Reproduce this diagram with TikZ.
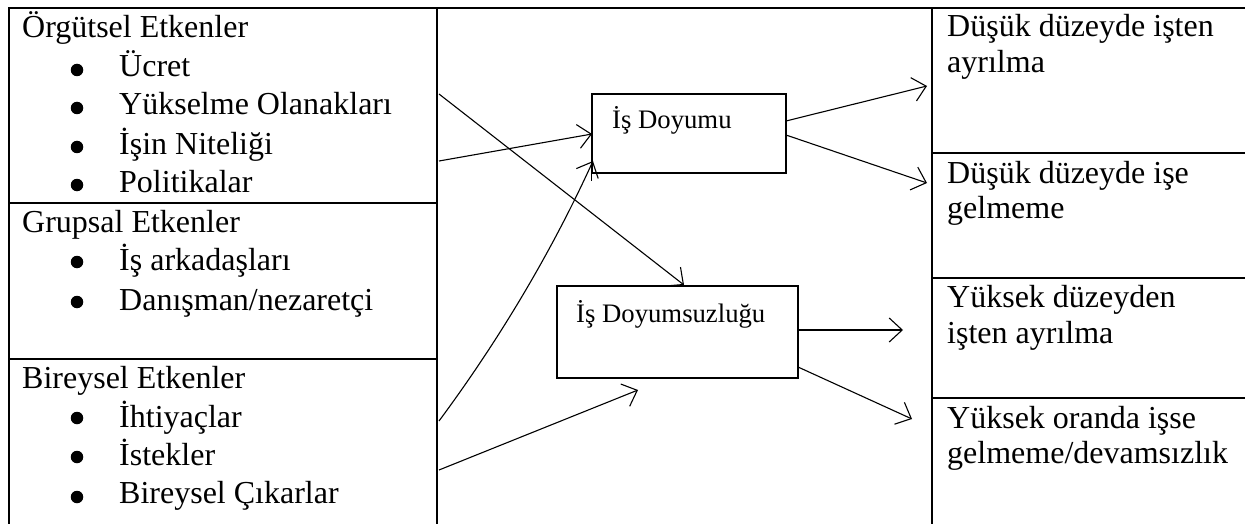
\documentclass[tikz,border=0pt]{standalone}
\usepackage{fontspec}
\setmainfont{Liberation Serif}
\usetikzlibrary{arrows.meta}

\tikzset{
  cizgi/.style={line width=2.6pt},
  ince/.style={line width=1.3pt},
  ok/.style={line width=1.1pt,-{Straight Barb[length=13pt,width=24pt,line width=1.1pt]}},
  yazi/.style={anchor=base west,inner sep=0pt,font=\fontsize{32}{39}\selectfont},
  kucuk/.style={anchor=base west,inner sep=0pt,font=\fontsize{26.7}{32}\selectfont},
  kutu/.style={draw,line width=1.3pt,inner sep=0pt},
  nokta/.style={circle,fill=black,inner sep=0pt,minimum size=12.5pt},
}

\begin{document}
\begin{tikzpicture}[x=1pt,y=-1pt]
  \useasboundingbox (0,0) rectangle (1245,524);
  % tablo
  \draw[cizgi] (1245,8) -- (9,8) -- (9,524);
  \draw[cizgi] (437,8) -- (437,524);
  \draw[cizgi] (932,8) -- (932,524);
  \draw[cizgi] (9,203) -- (437,203);
  \draw[cizgi] (9,359) -- (437,359);
  \draw[cizgi] (932,153) -- (1245,153);
  \draw[cizgi] (932,278) -- (1245,278);
  \draw[cizgi] (932,398) -- (1245,398);

  % etkenler
  \node[yazi] (orgut) at (22,38) {Örgütsel Etkenler};
  \node[nokta] (b1) at (77,70) {};
  \node[yazi] (ucret) at (119,77) {Ücret};
  \node[nokta] (b2) at (77,108) {};
  \node[yazi] (yuksel) at (119,115) {Yükselme Olanakları};
  \node[nokta] (b3) at (77,147) {};
  \node[yazi] (nitelik) at (119,155) {İşin Niteliği};
  \node[nokta] (b4) at (77,185) {};
  \node[yazi] (politika) at (119,193) {Politikalar};

  \node[yazi] (grup) at (22,232) {Grupsal Etkenler};
  \node[nokta] (b5) at (77,262) {};
  \node[yazi] (arkadas) at (119,270) {İş arkadaşları};
  \node[nokta] (b6) at (77,302) {};
  \node[yazi] (danisman) at (119,310) {Danışman/nezaretçi};

  \node[yazi] (birey) at (22,388) {Bireysel Etkenler};
  \node[nokta] (b7) at (77,418) {};
  \node[yazi] (ihtiyac) at (119,427) {İhtiyaçlar};
  \node[nokta] (b8) at (77,457) {};
  \node[yazi] (istek) at (119,465) {İstekler};
  \node[nokta] (b9) at (77,497) {};
  \node[yazi] (cikar) at (119,503) {Bireysel Çıkarlar};

  % sonuclar
  \node[yazi] (dusuk1) at (947,37) {Düşük düzeyde işten};
  \node[yazi] (dusuk1b) at (947,73) {ayrılma};
  \node[yazi] (dusuk2) at (947,183) {Düşük düzeyde işe};
  \node[yazi] (dusuk2b) at (947,218) {gelmeme};
  \node[yazi] (yuksek1) at (947,307) {Yüksek düzeyden};
  \node[yazi] (yuksek1b) at (947,343) {işten ayrılma};
  \node[yazi] (yuksek2) at (947,428) {Yüksek oranda işse};
  \node[yazi] (yuksek2b) at (947,463) {gelmeme/devamsızlık};

  % orta kutular
  \node[kutu,minimum width=194pt,minimum height=79pt] (doyum) at (689,133.5) {};
  \node[kucuk] (doyumyazi) at (612,129) {İş Doyumu};
  \draw[ince] (doyum.south west) -- ++(0,7);
  \node[kutu,minimum width=241pt,minimum height=92pt] (doyumsuz) at (677.5,332) {};
  \node[kucuk] (doyumsuzyazi) at (576,322) {İş Doyumsuzluğu};

  % ok uclari
  \coordinate (o1) at (439,161);
  \coordinate (o2) at (439,94);
  \coordinate (o3) at (439,421);
  \coordinate (o4) at (439,470);
  \coordinate (s4) at (638,390);
  \coordinate (g1) at (592,134);
  \coordinate (g2) at (684,285);
  \coordinate (g3) at (593,161);
  \coordinate (d1) at (786,121);
  \coordinate (d2) at (786,135);
  \coordinate (d3) at (798,330);
  \coordinate (d4) at (798,367);
  \coordinate (c1) at (927,86);
  \coordinate (c2) at (927,183);
  \coordinate (c3) at (903,330);
  \coordinate (c4) at (912,419);

  % oklar
  \draw[ok] (o1) -- (g1);
  \draw[ok] (o2) -- (g2);
  \draw[ok] (o3) .. controls (499,340) and (551,253) .. (g3);
  \draw[ok] (o4) -- (s4);
  \draw[ok] (d1) -- (c1);
  \draw[ok] (d2) -- (c2);
  \draw[ok] (d3) -- (c3);
  \draw[ok] (d4) -- (c4);
\end{tikzpicture}
\end{document}
